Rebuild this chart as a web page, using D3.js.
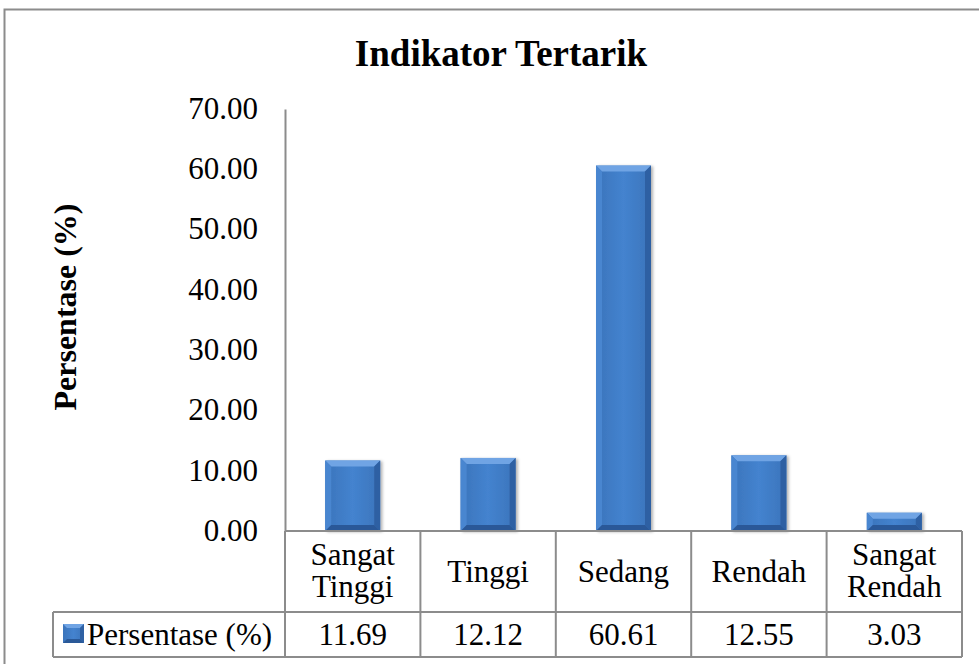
<!DOCTYPE html>
<html>
<head>
<meta charset="utf-8">
<script src="https://cdn.jsdelivr.net/npm/d3@7"></script>
<style>
  body { margin: 0; background: #fff; }
  svg text { font-family: "Liberation Serif", "Times New Roman", serif; fill: #000; }
</style>
</head>
<body>
<div id="chart"></div>
<script>
// data
const categories = [["Sangat", "Tinggi"], ["Tinggi"], ["Sedang"], ["Rendah"], ["Sangat", "Rendah"]];
const values = [11.69, 12.12, 60.61, 12.55, 3.03];
const seriesName = "Persentase (%)";
const yTicks = [0, 10, 20, 30, 40, 50, 60, 70];

const W = 979, H = 664;
const svg = d3.select("#chart").append("svg")
    .attr("width", W)
    .attr("height", H);

// bar gradients
const defs = svg.append("defs");
const g1 = defs.append("linearGradient").attr("id", "face").attr("x1", 0).attr("x2", 1).attr("y1", 0).attr("y2", 0);
g1.append("stop").attr("offset", "0%").attr("stop-color", "#3b74bb");
g1.append("stop").attr("offset", "50%").attr("stop-color", "#4483cf");
g1.append("stop").attr("offset", "100%").attr("stop-color", "#3b74bb");
const sh = defs.append("filter").attr("id", "shadow").attr("x", "-20%").attr("y", "-20%").attr("width", "140%").attr("height", "140%");
sh.append("feDropShadow").attr("dx", 2).attr("dy", 1).attr("stdDeviation", 1.5).attr("flood-color", "#000").attr("flood-opacity", 0.3);

// outer frame
svg.append("rect")
    .attr("x", 4.5).attr("y", 9.5)
    .attr("width", W + 10).attr("height", H + 10)
    .attr("fill", "none").attr("stroke", "#8c8c8c").attr("stroke-width", 2);

const plotLeft = 285, plotRight = 962, plotTop = 109, plotBase = 531;
const rowMid = 612, rowBot = 657, legendLeft = 53;

const x = d3.scaleBand().domain(d3.range(values.length)).range([plotLeft, plotRight]).paddingInner(0).paddingOuter(0);
const y = d3.scaleLinear().domain([0, 70]).range([plotBase, plotTop]);

// title
svg.append("text")
    .attr("x", 501).attr("y", 66)
    .attr("text-anchor", "middle")
    .style("font-size", "37px").style("font-weight", "bold")
    .text("Indikator Tertarik");

// y axis title
svg.append("text")
    .attr("transform", "translate(76," + 307 + ") rotate(-90)")
    .attr("text-anchor", "middle")
    .style("font-size", "32px").style("font-weight", "bold")
    .text(seriesName);

// y axis
const yAxis = svg.append("g")
    .attr("transform", "translate(" + plotLeft + ",0)")
    .call(d3.axisLeft(y).tickValues(yTicks).tickSize(0).tickPadding(27).tickFormat(d3.format(".2f")));
yAxis.select(".domain").attr("stroke", "#8c8c8c").attr("stroke-width", 2);
yAxis.selectAll("text")
    .style("font-family", "Liberation Serif, serif")
    .style("font-size", "31px")
    .attr("dy", "0.3em");

// bars with bevel
const bw = 55, bev = 6;
const bars = svg.append("g").selectAll("g")
    .data(values)
    .enter().append("g")
    .attr("filter", "url(#shadow)");

bars.each(function(d, i) {
    const g = d3.select(this);
    const x0 = x(i) + x.bandwidth() / 2 - bw / 2, x1 = x0 + bw;
    const y0 = y(d), y1 = y(0);
    const b = Math.min(bev, (y1 - y0) / 2);
    g.append("rect").attr("x", x0).attr("y", y0).attr("width", bw).attr("height", y1 - y0).attr("fill", "url(#face)");
    // top bevel (light)
    g.append("polygon").attr("points", [[x0, y0], [x1, y0], [x1 - b, y0 + b], [x0 + b, y0 + b]].join(" ")).attr("fill", "#70a4e4");
    // left bevel
    g.append("polygon").attr("points", [[x0, y0], [x0 + b, y0 + b], [x0 + b, y1 - b], [x0, y1]].join(" ")).attr("fill", "#4a86d0");
    // right bevel (dark)
    g.append("polygon").attr("points", [[x1, y0], [x1 - b, y0 + b], [x1 - b, y1 - b], [x1, y1]].join(" ")).attr("fill", "#2f61a3");
    // bottom bevel (dark)
    g.append("polygon").attr("points", [[x0, y1], [x1, y1], [x1 - b, y1 - b], [x0 + b, y1 - b]].join(" ")).attr("fill", "#2a5998");
});

// data table grid
const grid = svg.append("g").attr("stroke", "#8c8c8c").attr("stroke-width", 2).attr("fill", "none");
grid.append("line").attr("x1", plotLeft).attr("x2", plotRight).attr("y1", plotBase).attr("y2", plotBase);
grid.append("line").attr("x1", legendLeft).attr("x2", plotRight).attr("y1", rowMid).attr("y2", rowMid);
grid.append("line").attr("x1", legendLeft).attr("x2", plotRight).attr("y1", rowBot).attr("y2", rowBot);
grid.append("line").attr("x1", legendLeft).attr("x2", legendLeft).attr("y1", rowMid).attr("y2", rowBot);
grid.append("line").attr("x1", plotLeft).attr("x2", plotLeft).attr("y1", plotBase).attr("y2", rowBot);
values.forEach(function(d, i) {
    const xe = x(i) + x.bandwidth();
    grid.append("line").attr("x1", xe).attr("x2", xe).attr("y1", plotBase).attr("y2", rowBot);
});

// category labels
const cat = svg.append("g").selectAll("text")
    .data(categories)
    .enter().append("text")
    .attr("text-anchor", "middle")
    .style("font-size", "31px")
    .attr("x", (d, i) => x(i) + x.bandwidth() / 2)
    .attr("y", d => d.length === 1 ? 582 : 565);
cat.selectAll("tspan")
    .data(d => d)
    .enter().append("tspan")
    .attr("x", function() { return d3.select(this.parentNode).attr("x"); })
    .attr("dy", (d, j) => j === 0 ? 0 : 32)
    .text(d => d);

// values row
svg.append("g").selectAll("text")
    .data(values)
    .enter().append("text")
    .attr("text-anchor", "middle")
    .style("font-size", "31px")
    .attr("x", (d, i) => x(i) + x.bandwidth() / 2)
    .attr("y", 645)
    .text(d => d.toFixed(2));

// legend key
const lk = svg.append("g").attr("transform", "translate(63,624)");
lk.append("rect").attr("width", 21).attr("height", 19).attr("fill", "url(#face)");
lk.append("polygon").attr("points", "0,0 21,0 17,4 4,4").attr("fill", "#70a4e4");
lk.append("polygon").attr("points", "21,0 17,4 17,15 21,19").attr("fill", "#2f61a3");
lk.append("polygon").attr("points", "0,19 21,19 17,15 4,15").attr("fill", "#2a5998");
svg.append("text")
    .attr("x", 87).attr("y", 645)
    .style("font-size", "31px")
    .text(seriesName);
</script>
</body>
</html>
